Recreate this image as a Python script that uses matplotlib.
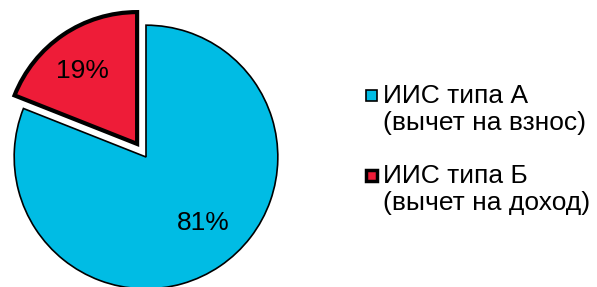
import matplotlib.pyplot as plt
from matplotlib.patches import Rectangle

plt.rcParams['font.family'] = ['Liberation Sans', 'DejaVu Sans']

labels = ['ИИС типа А\n(вычет на взнос)', 'ИИС типа Б\n(вычет на доход)']
values = [81, 19]
colors = ['#00BCE4', '#EE1C38']
explode = [0, 0.12]

W, H = 597, 287
fig = plt.figure(figsize=(W / 100, H / 100), dpi=100)
ax = fig.add_axes([1 / W, (130 - 145) / H, 290 / W, 290 / H])

wedges, texts, autotexts = ax.pie(
    values, explode=explode, colors=colors, startangle=158.4,
    autopct='%d%%', pctdistance=0.67, radius=1.0,
    wedgeprops=dict(edgecolor='black', linewidth=1.2),
    textprops=dict(fontsize=19, color='black'))
wedges[1].set_linewidth(3)
# label positions nudged to match the original
autotexts[0].set_position((0.432, -0.50))
autotexts[1].set_position((-0.485, 0.655))
ax.set_xlim(-1.1, 1.1)
ax.set_ylim(-1.1, 1.1)
ax.set_aspect('equal')
ax.axis('off')

# hand-made legend
leg_y = [84, 164]
for i, (lab, w) in enumerate(zip(labels, wedges)):
    top = leg_y[i]
    fig.text(383 / W, 1 - top / H, lab, fontsize=19, va='top', ha='left', linespacing=1.18)
    sq = Rectangle(((365.5) / W, 1 - (top + 16.5) / H), 11 / W, 11 / H,
                   transform=fig.transFigure, facecolor=w.get_facecolor(),
                   edgecolor='black', linewidth=1.2 if i == 0 else 2.5)
    fig.add_artist(sq)

fig.savefig('out.png', dpi=100)
